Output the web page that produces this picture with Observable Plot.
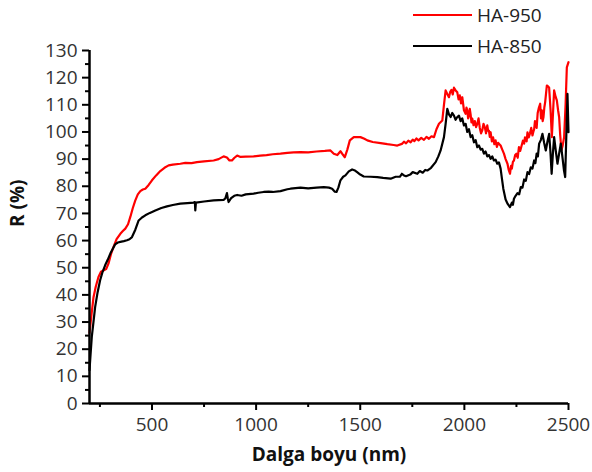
<!DOCTYPE html>
<html>
<head>
<meta charset="utf-8">
<script src="https://cdn.jsdelivr.net/npm/d3@7"></script>
<script src="https://cdn.jsdelivr.net/npm/@observablehq/plot@0.6"></script>
<style>
  html, body { margin: 0; padding: 0; background: #fff; }
  #wrap { position: relative; width: 592px; height: 472px; font-family: "Open Sans", sans-serif; }
  .leg { position: absolute; left: 413px; display: flex; align-items: center; font-size: 19px; color: #222; }
  .leg span.sw { display: inline-block; width: 59px; height: 2.5px; margin-right: 5px; }
</style>
</head>
<body>
<div id="wrap"></div>
<script>
// Series names and colours
const seriesNames = ["HA-950", "HA-850"];
const seriesColors = ["#ff0000", "#000000"];

// HA-950 (red): wavelength (nm) and reflectance R (%)
const ha950_nm = [200,210,219,230,243,255,267,280,291,303,315,330,348,360,372,385,396,408,420,432,444,456,468,484,500,520,540,560,580,600,636,660,690,716,750,796,820,844,860,872,884,896,909,925,950,988,1020,1050,1080,1117,1150,1180,1213,1250,1290,1330,1357,1373,1390,1405,1418,1426,1438,1450,1469,1501,1520,1534,1560,1598,1630,1660,1678,1700,1710,1720,1731,1742,1752,1760,1770,1780,1793,1806,1818,1830,1842,1854,1866,1878,1894,1902,1910,1918,1926,1932,1938,1944,1950,1958,1966,1972,1978,1984,1990,1998,2006,2010,2014,2018,2022,2026,2030,2034,2038,2044,2050,2056,2062,2068,2074,2080,2086,2092,2098,2104,2110,2114,2118,2122,2126,2132,2138,2144,2150,2156,2162,2168,2174,2182,2190,2198,2207,2213,2219,2224,2228,2233,2238,2244,2250,2256,2262,2268,2275,2281,2287,2291,2295,2299,2303,2309,2315,2321,2327,2331,2335,2339,2343,2347,2352,2358,2364,2368,2372,2376,2380,2384,2388,2392,2396,2402,2407,2414,2420,2425,2431,2438,2444,2450,2455,2460,2466,2472,2479,2486,2492,2500];
const ha950_R = [26,33,39,43,46.6,48.5,49,49.5,51.5,55,57.6,60.5,62.5,63.5,64.4,66,68.7,72,74.8,77,78.2,78.8,79.1,80.5,82.2,84,85.6,86.8,87.7,88,88.3,88.6,88.5,88.9,89.2,89.5,90,91,90.6,89.5,89.5,90.5,91.3,90.8,90.9,91,91.3,91.5,91.8,92,92.3,92.5,92.6,92.5,92.8,93,93.2,92,91.5,92.9,91.5,90.7,93.5,96.9,98.1,98.1,97.5,96.9,96.3,95.9,95.5,95.2,95,95.6,96.4,95.8,96.8,96.2,97.2,96.6,97.6,96.9,97.8,97.1,98.2,97.5,98.4,98.1,101,103,104.2,110,115.3,114,112.8,114.8,115.5,113.8,116.3,115.3,114.6,112,113.5,110.5,112.8,108,106.7,109,108,105,106,108.5,106.5,103.5,104.9,102.5,104,101.8,103,105,101.5,99.5,100.6,103,101.8,99.5,102.4,100.5,100.5,98.2,99.9,96.5,98,95.5,96.9,94.5,96,95.5,95,93.5,92,90,88.3,86,84.6,87.5,86.5,89,89.5,91.5,92,90.5,94.4,93,95,96.8,95.7,98,97.5,96.5,99.9,98,99.5,101.5,98.7,100,101,104,103,101.5,107,109,110.4,105,108,104,105.5,109,111,114,117.1,116.8,116.3,108,98.1,106,115.3,113,111.6,108,105.5,99,93.2,95,98.1,110,123.8,125.7];

// HA-850 (black)
const ha850_nm = [200,205,211,219,227,239,251,263,275,288,300,312,323,336,348,365,380,392,404,420,436,452,468,490,516,545,572,600,636,670,700,706,708,711,750,796,820,844,852,860,864,868,880,895,909,930,950,988,1010,1036,1060,1080,1117,1150,1165,1213,1250,1290,1325,1350,1365,1378,1386,1395,1405,1418,1429,1445,1461,1475,1485,1500,1517,1550,1582,1610,1646,1670,1690,1700,1710,1720,1740,1752,1774,1786,1800,1812,1822,1840,1862,1875,1886,1902,1910,1918,1926,1934,1942,1950,1958,1966,1974,1982,1990,1998,2006,2014,2022,2030,2038,2046,2054,2062,2070,2078,2086,2094,2102,2110,2118,2126,2134,2142,2150,2158,2166,2174,2180,2187,2198,2208,2219,2228,2233,2238,2246,2255,2263,2271,2279,2287,2295,2303,2311,2319,2327,2335,2341,2347,2353,2359,2367,2375,2383,2391,2399,2407,2413,2419,2425,2431,2439,2447,2455,2463,2472,2478,2484,2490,2495,2500];
const ha850_R = [12.3,18,24.5,30,35.5,41,45.4,48.5,50.9,53,55.2,57,58.6,59.3,59.5,59.8,60.1,60.5,61.3,64,67.4,68.5,69.3,70.2,71.1,72,72.6,73.1,73.6,73.8,74,74.2,71.1,74,74.4,74.8,74.9,75,75.5,77.5,75.5,74.2,75.6,76.5,76.8,76.5,77,77.3,77.6,77.9,78,77.9,78.2,78.9,79.1,79.5,79.2,79.5,79.7,79.5,79.1,78,77.9,79.5,82.2,83.5,84,85.5,86.2,85.8,85.2,84.3,83.6,83.5,83.4,83.1,82.8,83.5,83.5,84.6,84,83.7,84.3,85.2,84.6,85.6,85,86,85.8,86.8,88.9,91,93.2,98.1,103,108.5,106.5,105.5,107,106,104.5,105.5,106,104,105,102.4,103,100,101,98.1,98.8,96.2,97,94.4,95,93.5,93.8,92,92.8,91,91.5,90.1,91,89.5,89.8,88.3,88.8,86.5,83,79.1,75.1,73.5,72.3,74,73.2,75.4,76.5,77.5,77,79.7,79.5,82.5,82,85.2,84.5,87,86.5,89.5,88.5,92,91,95.7,97,99.3,96,93.2,96.5,99.3,93,84.6,92,98.1,93,88.3,92,95.7,90,86,83.4,100,114,99.9];

// Axis ticks
const xTicks = [500, 1000, 1500, 2000, 2500];
const xMinor = [250, 750, 1250, 1750, 2250];
const yTicks = d3.range(0, 131, 10);
const yMinor = d3.range(5, 130, 10);

const rows = [
  ...ha950_nm.map((x, i) => ({nm: x, R: ha950_R[i], s: seriesNames[0]})),
  ...ha850_nm.map((x, i) => ({nm: x, R: ha850_R[i], s: seriesNames[1]}))
];

const chart = Plot.plot({
  width: 592,
  height: 472,
  marginLeft: 89,
  marginRight: 24,
  marginTop: 50,
  marginBottom: 69,
  style: {fontFamily: "Open Sans, sans-serif", fontSize: "19px", color: "#222", background: "#fff"},
  x: {domain: [200, 2500]},
  y: {domain: [0, 130]},
  color: {domain: seriesNames, range: seriesColors},
  marks: [
    Plot.line(rows, {x: "nm", y: "R", z: "s", stroke: "s", strokeWidth: 2.2, curve: "linear"}),
    Plot.axisY({ticks: yMinor, tickSize: 4, stroke: "#000", strokeWidth: 2, text: null, label: null}),
    Plot.axisY({ticks: yTicks, tickSize: 7, tickPadding: 5, stroke: "#000", strokeWidth: 2, fill: "#333", fontSize: 19, label: null}),
    Plot.axisX({ticks: xMinor, tickSize: 4, stroke: "#000", strokeWidth: 2, text: null, label: null}),
    Plot.axisX({ticks: xTicks, tickSize: 7, tickPadding: 7, tickFormat: d => String(d), stroke: "#000", strokeWidth: 2, fill: "#333", fontSize: 19, label: null}),
    Plot.ruleX([200], {stroke: "#000", strokeWidth: 2.5}),
    Plot.ruleY([0], {stroke: "#000", strokeWidth: 2.5}),
    Plot.text(["Dalga boyu (nm)"], {frameAnchor: "bottom", dy: 57, fontWeight: "bold", fontSize: 19, fill: "#111"}),
    Plot.text(["R (%)"], {frameAnchor: "left", dx: -72, rotate: -90, fontWeight: "bold", fontSize: 19, fill: "#111"})
  ]
});

const wrap = document.getElementById("wrap");
wrap.appendChild(chart);

// Legend
const legTops = [2, 33];
seriesNames.forEach((name, i) => {
  const d = document.createElement("div");
  d.className = "leg";
  d.style.top = legTops[i] + "px";
  const sw = document.createElement("span");
  sw.className = "sw";
  sw.style.background = seriesColors[i];
  d.appendChild(sw);
  d.appendChild(document.createTextNode(name));
  wrap.appendChild(d);
});
</script>
</body>
</html>
